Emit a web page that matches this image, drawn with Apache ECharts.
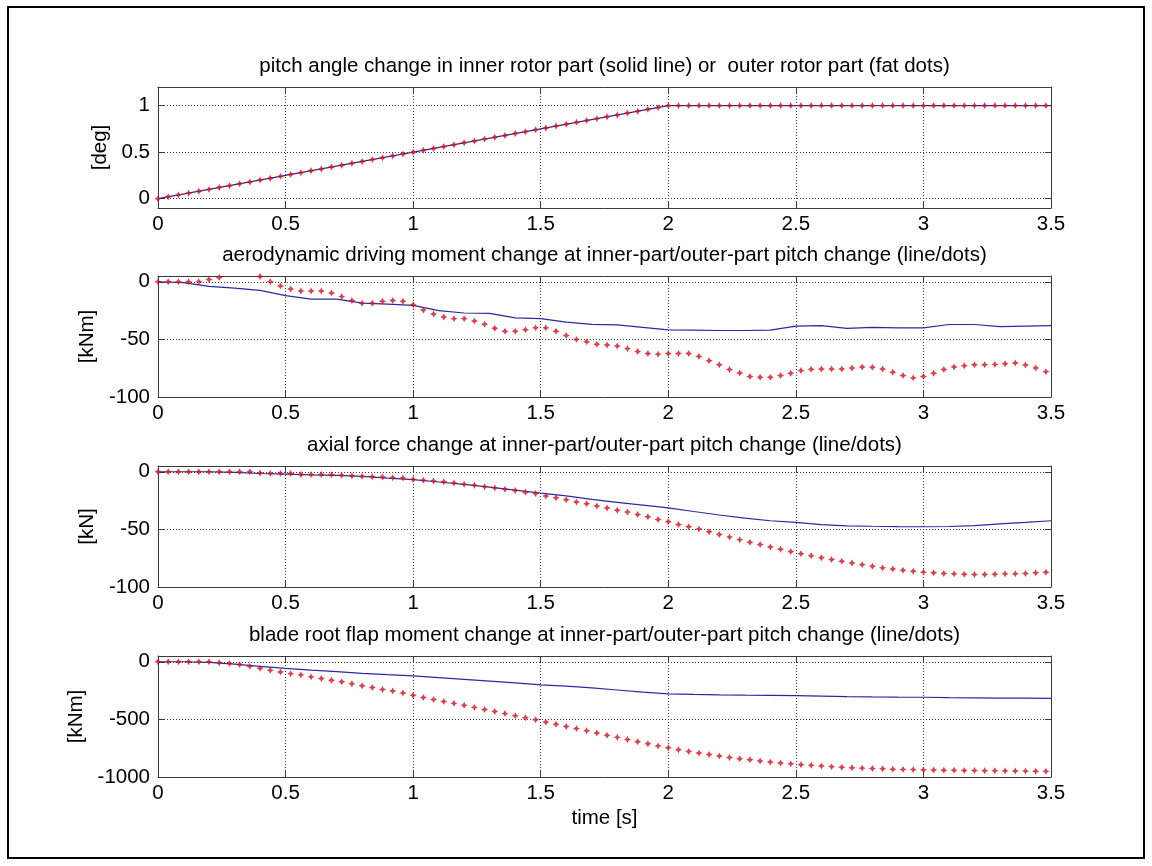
<!DOCTYPE html>
<html>
<head>
<meta charset="utf-8">
<script src="https://cdn.jsdelivr.net/npm/echarts@6/dist/echarts.min.js"></script>
<style>
  html, body { margin: 0; padding: 0; background: #fff; }
  #chart { width: 1152px; height: 866px; }
</style>
</head>
<body>
<div id="chart"></div>
<script>
// Sample times of the outer-part results (dots), 0.04 s step
const T_DOTS = [
  0, 0.04, 0.08, 0.12, 0.16, 0.2, 0.24, 0.28, 0.32, 0.36,
  0.4, 0.44, 0.48, 0.52, 0.56, 0.6, 0.64, 0.68, 0.72, 0.76,
  0.8, 0.84, 0.88, 0.92, 0.96, 1, 1.04, 1.08, 1.12, 1.16,
  1.2, 1.24, 1.28, 1.32, 1.36, 1.4, 1.44, 1.48, 1.52, 1.56,
  1.6, 1.64, 1.68, 1.72, 1.76, 1.8, 1.84, 1.88, 1.92, 1.96,
  2, 2.04, 2.08, 2.12, 2.16, 2.2, 2.24, 2.28, 2.32, 2.36,
  2.4, 2.44, 2.48, 2.52, 2.56, 2.6, 2.64, 2.68, 2.72, 2.76,
  2.8, 2.84, 2.88, 2.92, 2.96, 3, 3.04, 3.08, 3.12, 3.16,
  3.2, 3.24, 3.28, 3.32, 3.36, 3.4, 3.44, 3.48
];

// Sample times of the inner-part results (solid line)
const T_LINE = [
  0, 0.1, 0.2, 0.3, 0.4, 0.5, 0.6, 0.7, 0.8, 0.9,
  1, 1.1, 1.2, 1.3, 1.4, 1.5, 1.6, 1.7, 1.8, 1.9,
  2, 2.1, 2.2, 2.3, 2.4, 2.5, 2.6, 2.7, 2.8, 2.9,
  3, 3.1, 3.2, 3.3, 3.4, 3.5
];

// Pitch angle [deg]
const PITCH_LINE_T = [0, 2, 3.5];
const PITCH_LINE = [0, 1, 1];
const PITCH_DOTS = [
  0, 0.02, 0.04, 0.06, 0.08, 0.1, 0.12, 0.14, 0.16, 0.18,
  0.2, 0.22, 0.24, 0.26, 0.28, 0.3, 0.32, 0.34, 0.36, 0.38,
  0.4, 0.42, 0.44, 0.46, 0.48, 0.5, 0.52, 0.54, 0.56, 0.58,
  0.6, 0.62, 0.64, 0.66, 0.68, 0.7, 0.72, 0.74, 0.76, 0.78,
  0.8, 0.82, 0.84, 0.86, 0.88, 0.9, 0.92, 0.94, 0.96, 0.98,
  1, 1, 1, 1, 1, 1, 1, 1, 1, 1,
  1, 1, 1, 1, 1, 1, 1, 1, 1, 1,
  1, 1, 1, 1, 1, 1, 1, 1, 1, 1,
  1, 1, 1, 1, 1, 1, 1, 1
];

// Aerodynamic driving moment change [kNm]
const MOMENT_LINE = [
  0, -0.8, -4, -5.5, -7.4, -12, -15, -15, -18.5, -19.4,
  -20.5, -25, -27.1, -27.5, -31.4, -32, -35, -37, -37.4, -39.6,
  -41.7, -42, -42.3, -42.3, -42, -38.5, -38, -40.5, -39.6, -40,
  -40, -37.1, -37.1, -39, -38.5, -38
];
const MOMENT_DOTS = [
  0, 0, 0, 0, 0, 2, 3.7, 7, 9, 7.5,
  4.5, 0, -3.7, -6.3, -8, -8, -8, -9.7, -12.9, -16.3,
  -18.6, -18.6, -16.9, -16.3, -16.9, -20, -24.6, -28, -30.6, -32,
  -32, -34, -36.9, -40.3, -42.9, -42.9, -41.7, -40, -40, -42.9,
  -46.6, -50, -52, -54.2, -54.8, -55.7, -58, -60.5, -62.2, -62.8,
  -62.2, -62.2, -62.2, -64.8, -68.5, -72, -76.2, -79.1, -82.2, -82.8,
  -82.8, -81.4, -79.4, -77.1, -75.9, -75.7, -75.7, -75.7, -74.8, -74,
  -74.2, -75.7, -78.5, -81.4, -83.4, -82.2, -79.4, -76.2, -74, -72.8,
  -72, -72, -71.7, -71.1, -70.5, -72.3, -74.8, -78
];

// Axial force change [kN]
const AXIAL_LINE = [
  0, 0, 0, -0.5, -1.5, -2, -2.7, -3.2, -4, -5.5,
  -6.9, -8.9, -11, -13.4, -16, -18.6, -21, -24, -26.5, -29,
  -31.4, -34.5, -37.5, -40.3, -42.5, -44, -45.8, -46.9, -47.3, -47.6,
  -47.7, -47.5, -46.8, -45.3, -44, -42.5
];
const AXIAL_DOTS = [
  0, 0, 0, 0, 0, 0, 0, 0, 0, 0,
  -1.1, -1.4, -1.4, -1.4, -2.3, -2.3, -2.3, -2.6, -3.1, -3.4,
  -4, -4.3, -4.6, -5.1, -5.4, -6.6, -7.4, -8, -8.6, -9.7,
  -10.9, -11.7, -12.9, -14, -15.1, -16.3, -17.7, -18.9, -21.1, -22.6,
  -24.3, -26.3, -27.7, -29.7, -31.4, -33.4, -34.9, -37.1, -39.1, -41.4,
  -43.4, -45.7, -47.7, -49.7, -52, -54.4, -56.7, -58.9, -61.1, -63.2,
  -65.3, -67.3, -69.2, -71.1, -72.9, -74.6, -76.2, -77.7, -79.1, -80.6,
  -82, -83.4, -84.3, -85.4, -86.3, -87.1, -87.7, -88.3, -88.6, -88.9,
  -89.1, -89.1, -88.9, -88.6, -88.6, -88.3, -87.7, -87.2
];

// Blade root flap moment change [kNm]
const FLAP_LINE = [
  0, 0, -5, -20, -40, -57, -72, -86, -100, -112,
  -123, -138, -153, -168, -184, -200, -212, -226, -245, -263,
  -278, -283, -287, -290, -292, -294, -298, -302, -305, -307,
  -308, -311, -313, -315, -316, -317
];
const FLAP_DOTS = [
  0, 0, 0, 0, 0, 0, -8.6, -14, -23, -40,
  -57, -74, -89, -103, -114, -131, -146, -160, -174, -191,
  -209, -223, -240, -254, -271, -290, -310, -327, -344, -361,
  -378, -396, -414, -432, -450, -468, -486, -504, -523, -542,
  -561, -580, -599, -618, -637, -656, -675, -694, -712, -730,
  -747, -763, -778, -792, -805, -818, -830, -841, -851, -861,
  -870, -878, -886, -893, -899, -905, -910, -915, -919, -923,
  -926, -929, -932, -934, -936, -938, -940, -941, -942, -943,
  -944, -945, -946, -947, -948, -949, -950, -951
];

// Texts, axis ranges and tick values
const TITLES = [
  'pitch angle change in inner rotor part (solid line) or  outer rotor part (fat dots)',
  'aerodynamic driving moment change at inner-part/outer-part pitch change (line/dots)',
  'axial force change at inner-part/outer-part pitch change (line/dots)',
  'blade root flap moment change at inner-part/outer-part pitch change (line/dots)'
];
const Y_UNITS = ['[deg]', '[kNm]', '[kN]', '[kNm]'];
const Y_MIN = [-0.1, -100, -100, -1000];
const Y_MAX = [1.2, 5, 5, 50];
const Y_TICKS = [[0, 0.5, 1], [-100, -50, 0], [-100, -50, 0], [-1000, -500, 0]];
const X_MIN = 0, X_MAX = 3.5, X_STEP = 0.5;
const X_NAME = 'time [s]';

const LINE_T = [PITCH_LINE_T, T_LINE, T_LINE, T_LINE];
const LINE_V = [PITCH_LINE, MOMENT_LINE, AXIAL_LINE, FLAP_LINE];
const DOT_V = [PITCH_DOTS, MOMENT_DOTS, AXIAL_DOTS, FLAP_DOTS];

// Layout
const PLOT_LEFT = 158, PLOT_RIGHT = 101;
const PLOT_TOPS = [87, 276, 466, 656];
const PLOT_HEIGHT = 121;
const NAME_GAPS = [40, 52, 52, 64];
const FONT = '"Liberation Sans", Arial, Helvetica, sans-serif';
const FONT_SIZE = 20.5;
const AXIS_COLOR = '#3a3a3a';
const GRID_COLOR = '#3a3a3a';
const LINE_COLOR = '#2a2aa0';
const DOT_COLOR = '#d6101f';
const DOT_SYMBOL = 'path://M0,-10 L3.5,-3.5 L10,0 L3.5,3.5 L0,10 L-3.5,3.5 L-10,0 L-3.5,-3.5 Z';

const chart = echarts.init(document.getElementById('chart'), null, { renderer: 'canvas' });

const grids = [], xAxes = [], yAxes = [], series = [], graphics = [];
const fmt = v => String(v);
const boxLine = { show: true, onZero: false, lineStyle: { color: AXIS_COLOR, width: 1 } };
const tickIn = { show: true, inside: true, length: 6, lineStyle: { color: AXIS_COLOR, width: 1 } };
const dotted = { show: true, lineStyle: { color: GRID_COLOR, width: 1, type: [1, 2] } };
const textStyle = { color: '#000', fontSize: FONT_SIZE, fontFamily: FONT };

for (let k = 0; k < 4; k++) {
  grids.push({ left: PLOT_LEFT, right: PLOT_RIGHT, top: PLOT_TOPS[k], height: PLOT_HEIGHT, show: false });

  // bottom and top time axes
  xAxes.push({
    gridIndex: k, type: 'value', position: 'bottom',
    min: X_MIN, max: X_MAX, interval: X_STEP,
    axisLine: boxLine, axisTick: tickIn,
    axisLabel: Object.assign({}, textStyle, { margin: 6, formatter: fmt }),
    splitLine: dotted,
    name: k === 3 ? X_NAME : '', nameLocation: 'middle', nameGap: 31,
    nameTextStyle: textStyle
  });
  xAxes.push({
    gridIndex: k, type: 'value', position: 'top',
    min: X_MIN, max: X_MAX, interval: X_STEP,
    axisLine: boxLine, axisTick: tickIn, axisLabel: { show: false }, splitLine: { show: false }
  });

  // left and right value axes
  yAxes.push({
    gridIndex: k, type: 'value', position: 'left',
    min: Y_MIN[k], max: Y_MAX[k],
    axisLine: boxLine,
    axisTick: Object.assign({}, tickIn, { customValues: Y_TICKS[k] }),
    axisLabel: Object.assign({}, textStyle, { margin: 8, formatter: fmt, customValues: Y_TICKS[k] }),
    splitLine: dotted,
    name: Y_UNITS[k], nameLocation: 'middle', nameRotate: 90, nameGap: NAME_GAPS[k],
    nameTextStyle: textStyle
  });
  yAxes.push({
    gridIndex: k, type: 'value', position: 'right',
    min: Y_MIN[k], max: Y_MAX[k],
    axisLine: boxLine,
    axisTick: Object.assign({}, tickIn, { customValues: Y_TICKS[k] }),
    axisLabel: { show: false, customValues: Y_TICKS[k] },
    splitLine: { show: false }
  });

  series.push({
    type: 'line', xAxisIndex: 2 * k, yAxisIndex: 2 * k,
    data: LINE_T[k].map((t, i) => [t, LINE_V[k][i]]),
    showSymbol: false, symbol: 'none', clip: true, silent: true,
    lineStyle: { color: LINE_COLOR, width: 1.2 }, z: 2
  });
  series.push({
    type: 'scatter', xAxisIndex: 2 * k, yAxisIndex: 2 * k,
    data: T_DOTS.map((t, i) => [t, DOT_V[k][i]]),
    symbol: DOT_SYMBOL, symbolSize: 7, clip: true, silent: true,
    itemStyle: { color: DOT_COLOR }, z: 3
  });

  graphics.push({
    type: 'text', x: PLOT_LEFT + (1152 - PLOT_LEFT - PLOT_RIGHT) / 2, y: PLOT_TOPS[k] - 21,
    style: { text: TITLES[k], fill: '#000', font: FONT_SIZE + 'px ' + FONT, textAlign: 'center', textVerticalAlign: 'middle' }
  });
}

// figure frame
graphics.push({
  type: 'rect', shape: { x: 8, y: 7, width: 1136, height: 851 },
  style: { fill: null, stroke: '#000', lineWidth: 2 }, z: 100
});

chart.setOption({
  animation: false,
  backgroundColor: '#fff',
  grid: grids,
  xAxis: xAxes,
  yAxis: yAxes,
  series: series,
  graphic: graphics
});
</script>
</body>
</html>
